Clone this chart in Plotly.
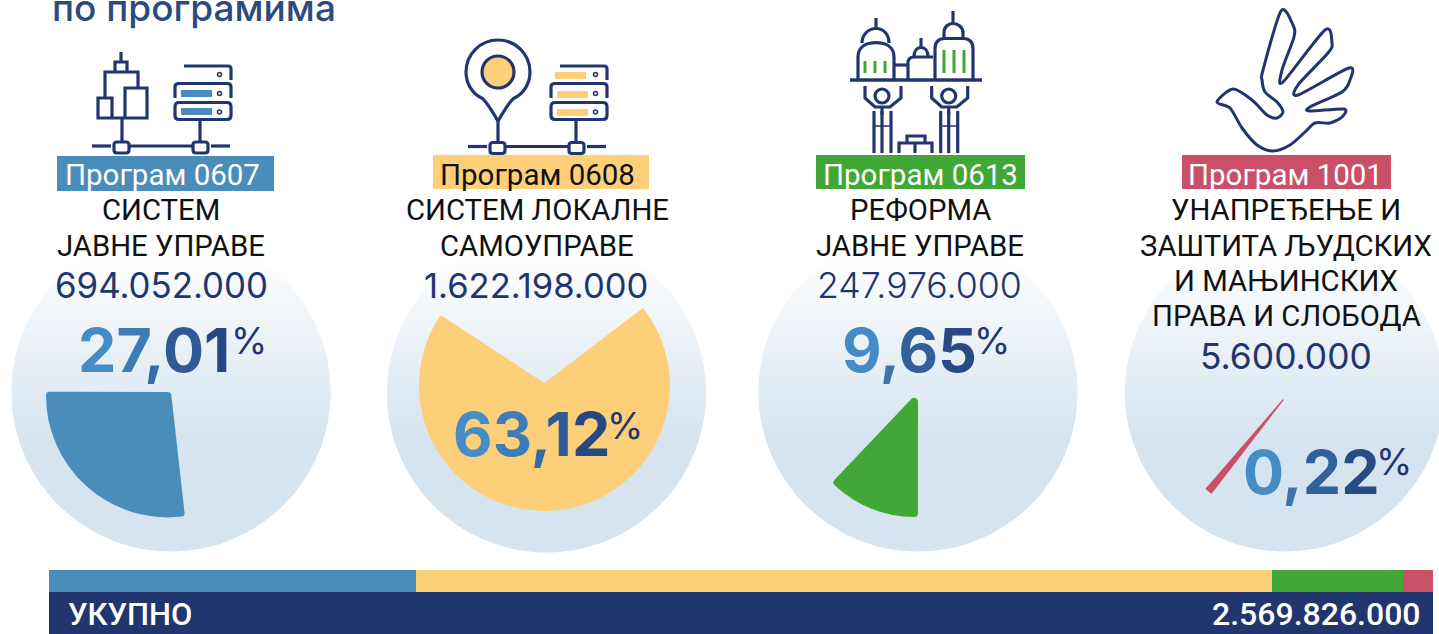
import math
import plotly.graph_objects as go

W, H = 1439, 634
NAVY = "#21366f"

# ---- data ----
programs = ["Програм 0607", "Програм 0608", "Програм 0613", "Програм 1001"]
names = [["СИСТЕМ", "ЈАВНЕ УПРАВЕ"], ["СИСТЕМ ЛОКАЛНЕ", "САМОУПРАВЕ"], ["РЕФОРМА", "ЈАВНЕ УПРАВЕ"],
         ["УНАПРЕЂЕЊЕ И", "ЗАШТИТА ЉУДСКИХ", "И МАЊИНСКИХ", "ПРАВА И СЛОБОДА"]]
amounts = ["694.052.000", "1.622.198.000", "247.976.000", "5.600.000"]
percent_labels = ["27,01", "63,12", "9,65", "0,22"]
# Wedge sizes as actually drawn in the reference (% of a full turn, measured from its angles)
wedge_shares = [26.8, 69.6, 12.1, 0.9]
wedge_starts = [173.6, 52.7, 180.0, 217.6]
# Bottom strip segment sizes as actually drawn in the reference (% of strip length)
strip_shares = [26.5, 61.9, 9.4, 2.2]
total_label = "2.569.826.000"
total_value = 2569826000
colors = ["#4a8cba", "#fdcf78", "#41a737", "#c95067"]

# ---- layout constants ----
circle_cx = [171, 546.5, 918, 1284.5]
circle_cy = [392, 393, 392, 392]
CR = 159.5
wedge_cx = [171, 544.5, 918, 1283]
wedge_cy = [392, 387.5, 392, 400]
wedge_r = [125, 125.5, 125, 118]
wedge_stroke = [7, 4, 8, 1.2]
badge = [(57, 156, 274, 191), (433, 155, 649, 189), (816, 155, 1025, 189), (1182, 155, 1391, 189)]
badge_font = ["white", "#111111", "white", "white"]
badge_tx = [162, 537, 920, 1285]
name_x = [161, 537, 920, 1286]
name_ys = [[210, 246], [210, 246], [210, 246], [210, 246, 281, 316]]
amount_pos = [(161.5, 285), (536, 285), (919.5, 285), (1286, 356)]
amount_size = [34.8, 34.6, 35.7, 35.4]
amount_weight = [400, 400, 300, 400]
pct_pos = [(154, 350), (531, 434), (909, 350), (1311, 472)]
sign_pos = [(249, 340), (625, 425), (992, 340), (1394, 461)]

shapes, ann = [], []
LW = 3.2


def poly(pts, fill):
    d = "M" + "L".join(f"{x:.2f},{y:.2f}" for x, y in pts) + "Z"
    shapes.append(dict(type="path", path=d, xref="x", yref="y", fillcolor=fill, line=dict(width=0), layer="below"))


def gradient_circle(cx, cy, r):
    top, bot = 250, 440
    c0, c1 = (255, 255, 255), (214, 228, 239)
    y = cy - r
    step = 3
    while y < bot:
        t = min(1, max(0, (y + step / 2 - top) / (bot - top)))
        col = "rgb(%d,%d,%d)" % tuple(round(a + (b - a) * t) for a, b in zip(c0, c1))
        pts = []
        ys = [y + step * i / 3 for i in range(5)]
        ys = [min(v, cy + r) for v in ys]
        for v in ys:
            pts.append((cx - math.sqrt(max(r * r - (v - cy) ** 2, 0)), v))
        for v in reversed(ys):
            pts.append((cx + math.sqrt(max(r * r - (v - cy) ** 2, 0)), v))
        poly(pts, col)
        y += step
    pts = []
    n = 70
    a0 = math.asin((bot - cy) / r)
    for i in range(n + 1):
        a = a0 + (math.pi - 2 * a0) * i / n
        pts.append((cx + r * math.cos(a), cy + r * math.sin(a)))
    poly(pts, "rgb(214,228,239)")


def stroke(d, w=LW, color=NAVY):
    shapes.append(dict(type="path", path=d, xref="x", yref="y", line=dict(color=color, width=w), layer="above"))


def block(x0, y0, x1, y1, color):
    shapes.append(dict(type="rect", x0=x0, y0=y0, x1=x1, y1=y1, xref="x", yref="y", fillcolor=color,
                       line=dict(width=0), layer="above"))


def dot(x, y, r, fill=None, w=1.5):
    shapes.append(dict(type="circle", x0=x - r, x1=x + r, y0=y - r, y1=y + r, xref="x", yref="y",
                       fillcolor=fill or "rgba(0,0,0,0)", line=dict(color=NAVY, width=w), layer="above"))


def rrect(x0, y0, x1, y1, r=3.0, w=LW):
    stroke(f"M{x0+r},{y0}H{x1-r}Q{x1},{y0} {x1},{y0+r}V{y1-r}Q{x1},{y1} {x1-r},{y1}H{x0+r}Q{x0},{y1} {x0},{y1-r}V{y0+r}Q{x0},{y0} {x0+r},{y0}Z", w)


def network(dx, stem_x, stem_top, y=146.0):
    stroke(f"M{dx+92},{y}H{dx+111}")
    rrect(dx + 114, y - 4, dx + 129, y + 7)
    stroke(f"M{dx+129},{y}H{dx+193}")
    rrect(dx + 193, y - 4, dx + 208, y + 7)
    stroke(f"M{dx+211},{y}H{dx+230}")
    stroke(f"M{dx+stem_x},{stem_top}V{y-4}")
    stroke(f"M{dx+200},120V{y-4}")


def servers(dx, fill, bars):
    stroke(f"M{dx+184},66H{dx+228}Q{dx+231},66 {dx+231},69V80")
    stroke(f"M{dx+175},98V87Q{dx+175},83.5 {dx+179},83.5H{dx+227}Q{dx+231},83.5 {dx+231},87V98")
    rrect(dx + 175, 102.5, dx + 231, 119.5, 4)
    for y0, y1, x0 in bars:
        block(dx + x0, y0, dx + x0 + 31, y1, fill)
    for y in (74.5, 93.5, 112):
        dot(dx + 219.5, y, 2)


# ---- backgrounds ----
for cx, cy in zip(circle_cx, circle_cy):
    gradient_circle(cx, cy, CR)

# ---- icon 1 ----
stroke("M121,52V62")
stroke("M115,72V62H127V72")
stroke("M105,98V72H138V88")
stroke("M125,118V88H147V118H98V98H112V118")
network(0, 122, 119)
servers(0, colors[0], [(90, 97, 181), (108, 115, 181)])
# ---- icon 2 ----
stroke("M482.5,98.5C472,94 466,83 466,72C466,54.3 480.3,40 498,40C515.7,40 530,54.3 530,72C530,83 524,94 513.5,98.5"
       "C509,102 503,113 498,121C493,113 487,102 482.5,98.5Z")
dot(498, 72, 16, colors[1], LW)
network(376, 122, 121, 146.5)
servers(376, colors[1], [(72, 79, 179), (91, 98, 181), (109, 116, 181)])
# ---- icon 3 ----
stroke("M850,80H982", 3.6)
stroke("M858,79V57C858,47 866,42.7 876,42.7C886,42.7 894,47 894,57V79")
stroke("M862,43C862,35 868,28.5 876,28.5C884,28.5 889,35 889,43")
stroke("M876,18V28")
for x in (865, 875, 885):
    stroke(f"M{x},61V73", 3, colors[2])
stroke("M894,65H908")
stroke("M908,79V63Q908,57 914,57H933")
stroke("M914,57C914,51 917,47.5 921,47.5C925,47.5 928,51 928,57")
stroke("M921,38V47")
stroke("M935,79V49Q935,38.5 945,38.5H963Q973,38.5 973,49V79")
stroke("M944,38V33C944,27 948,23.5 953,23.5C958,23.5 963,27 963,33V38")
stroke("M953,11V23")
for x in (944, 954, 964):
    stroke(f"M{x},50V73", 3, colors[2])
for off in (0, 66.7):
    dot(882 + off, 96, 7, None, LW)
    stroke(f"M{865+off},86V98L{875+off},107H{890+off}L{901+off},98V86")
    stroke(f"M{882+off},107V115")
    for x in (874, 882, 891):
        stroke(f"M{x+off},111V153")
    stroke(f"M{874+off},126H{891+off}", 1.5)
stroke("M907,143V136H925V143")
stroke("M899,153V143H932V153")
stroke("M915,143V153")

# ---- icon 4: hand outline through points, smoothed ----
hand = [(1217, 102), (1233, 89), (1252, 100), (1267, 115), (1277, 118), (1283, 112), (1277, 102), (1265, 92),
        (1262, 80), (1263, 70), (1281, 11), (1293, 25), (1294, 37), (1282, 70), (1283, 82), (1325, 30), (1332, 43),
        (1328, 53), (1298, 85), (1298, 95), (1349, 68), (1350, 80), (1342, 92), (1310, 107), (1310, 111), (1344, 109),
        (1342, 117), (1330, 123), (1315, 123), (1305, 132), (1290, 145), (1273, 151), (1257, 145), (1242, 128),
        (1230, 108)]
d = f"M{hand[0][0]},{hand[0][1]}"
m = len(hand)
for i in range(m):
    p0, p1, p2, p3 = hand[i - 1], hand[i], hand[(i + 1) % m], hand[(i + 2) % m]
    k = 0.14
    d += f"C{p1[0]+(p2[0]-p0[0])*k:.1f},{p1[1]+(p2[1]-p0[1])*k:.1f} {p2[0]-(p3[0]-p1[0])*k:.1f},{p2[1]-(p3[1]-p1[1])*k:.1f} {p2[0]},{p2[1]}"
stroke(d + "Z", 3)


# ---- text ----
def text(x, y, s, size, color=NAVY, family="Roboto", weight=400, anchor="center"):
    ann.append(dict(x=x, y=y, xref="x", yref="y", text=s, showarrow=False, xanchor=anchor, yanchor="middle",
                    font=dict(size=size, color=color, family=family, weight=weight)))


def gradient_text(s):
    a, b = (74, 150, 208), (35, 64, 122)
    out = ""
    n = len(s)
    for i, ch in enumerate(s):
        t = (i + 0.5) / n
        c = "#%02x%02x%02x" % tuple(round(u + (v - u) * t) for u, v in zip(a, b))
        out += f'<span style="color:{c}">{ch}</span>'
    return out


text(50, 7, "по програмима", 37, "#2b4a80", "Inter", 500, "left")
for i in range(4):
    block(badge[i][0], badge[i][1], badge[i][2], badge[i][3], colors[i])
    text(badge_tx[i], 175, programs[i], 29.5, badge_font[i])
    for line, y in zip(names[i], name_ys[i]):
        text(name_x[i], y, line, 29.3, "#111111")
    text(*amount_pos[i], amounts[i], amount_size[i], NAVY, "Inter", amount_weight[i])
    text(*pct_pos[i], gradient_text(percent_labels[i]), 61, NAVY, "Inter", 700)
    text(*sign_pos[i], "%", 37, NAVY, "Inter", 400)
ann.append(dict(x=66 / W, y=1 - 614 / H, xref="paper", yref="paper", text="УКУПНО", showarrow=False, xanchor="left",
                yanchor="middle", font=dict(size=31, color="white", family="Roboto", weight=500)))
ann.append(dict(x=1423 / W, y=1 - 614 / H, xref="paper", yref="paper", text=total_label, showarrow=False,
                xanchor="right", yanchor="middle", font=dict(size=32, color="white", family="Roboto", weight=500)))

fig = go.Figure()
# ---- pie wedges ----
for i in range(4):
    s = wedge_stroke[i]
    span = wedge_shares[i] * 3.6
    half = math.radians(span / 2)
    mid = math.radians(wedge_starts[i] + span / 2)
    if i == 3:
        d0, r = 0, wedge_r[i] - s / 2
    elif span < 180:
        d0 = (s / 2) / math.sin(half)
        r = wedge_r[i] - s / 2 - d0 * math.cos(half)
    else:
        d0, r = -s / 2, wedge_r[i] - s / 2
    cx = wedge_cx[i] + d0 * math.sin(mid)
    cy = wedge_cy[i] - d0 * math.cos(mid)
    fig.add_trace(go.Pie(values=[wedge_shares[i], 100 - wedge_shares[i]], sort=False, direction="clockwise",
                         rotation=wedge_starts[i], textinfo="none", hoverinfo="skip", showlegend=False,
                         marker=dict(colors=[colors[i], "rgba(0,0,0,0)"],
                                     line=dict(color=[colors[i], "rgba(0,0,0,0)"], width=[s, 0])),
                         domain=dict(x=[(cx - r) / W, (cx + r) / W], y=[1 - (cy + r) / H, 1 - (cy - r) / H])))

# ---- bottom strips ----
for sh, c, name in zip(strip_shares, colors, programs):
    fig.add_trace(go.Bar(x=[sh], y=[0], orientation="h", width=1, marker=dict(color=c, line=dict(width=0)),
                         xaxis="x2", yaxis="y2", name=name, showlegend=False, hoverinfo="skip"))
fig.add_trace(go.Bar(x=[total_value], y=[0], orientation="h", width=1, marker=dict(color=NAVY, line=dict(width=0)),
                     xaxis="x3", yaxis="y3", showlegend=False, hoverinfo="skip"))
# invisible anchor so the pixel-scaled overlay axes exist
fig.add_trace(go.Scatter(x=[0], y=[0], mode="markers", marker=dict(opacity=0), showlegend=False, hoverinfo="skip"))

strip_dom = [49 / W, 1433 / W]
hidden = dict(visible=False, fixedrange=True)
fig.update_layout(
    width=W, height=H, margin=dict(l=0, r=0, t=0, b=0), paper_bgcolor="white", plot_bgcolor="rgba(0,0,0,0)",
    barmode="stack", shapes=shapes, annotations=ann, showlegend=False,
    xaxis=dict(range=[0, W], domain=[0, 1], **hidden),
    yaxis=dict(range=[H, 0], domain=[0, 1], **hidden),
    xaxis2=dict(range=[0, sum(strip_shares)], domain=strip_dom, anchor="y2", **hidden),
    yaxis2=dict(range=[-0.5, 0.5], domain=[1 - 592 / H, 1 - 569.5 / H], anchor="x2", **hidden),
    xaxis3=dict(range=[0, total_value], domain=strip_dom, anchor="y3", **hidden),
    yaxis3=dict(range=[-0.5, 0.5], domain=[0, 1 - 592 / H], anchor="x3", **hidden),
)
post = """
document.body.style.margin='0';
var st=document.createElement('style');
st.textContent='.slice path, .slice .surface, path.surface{stroke-linejoin:round !important;}';
document.head.appendChild(st);
"""
fig.write_html("out.html", config=dict(displayModeBar=False), post_script=post)
